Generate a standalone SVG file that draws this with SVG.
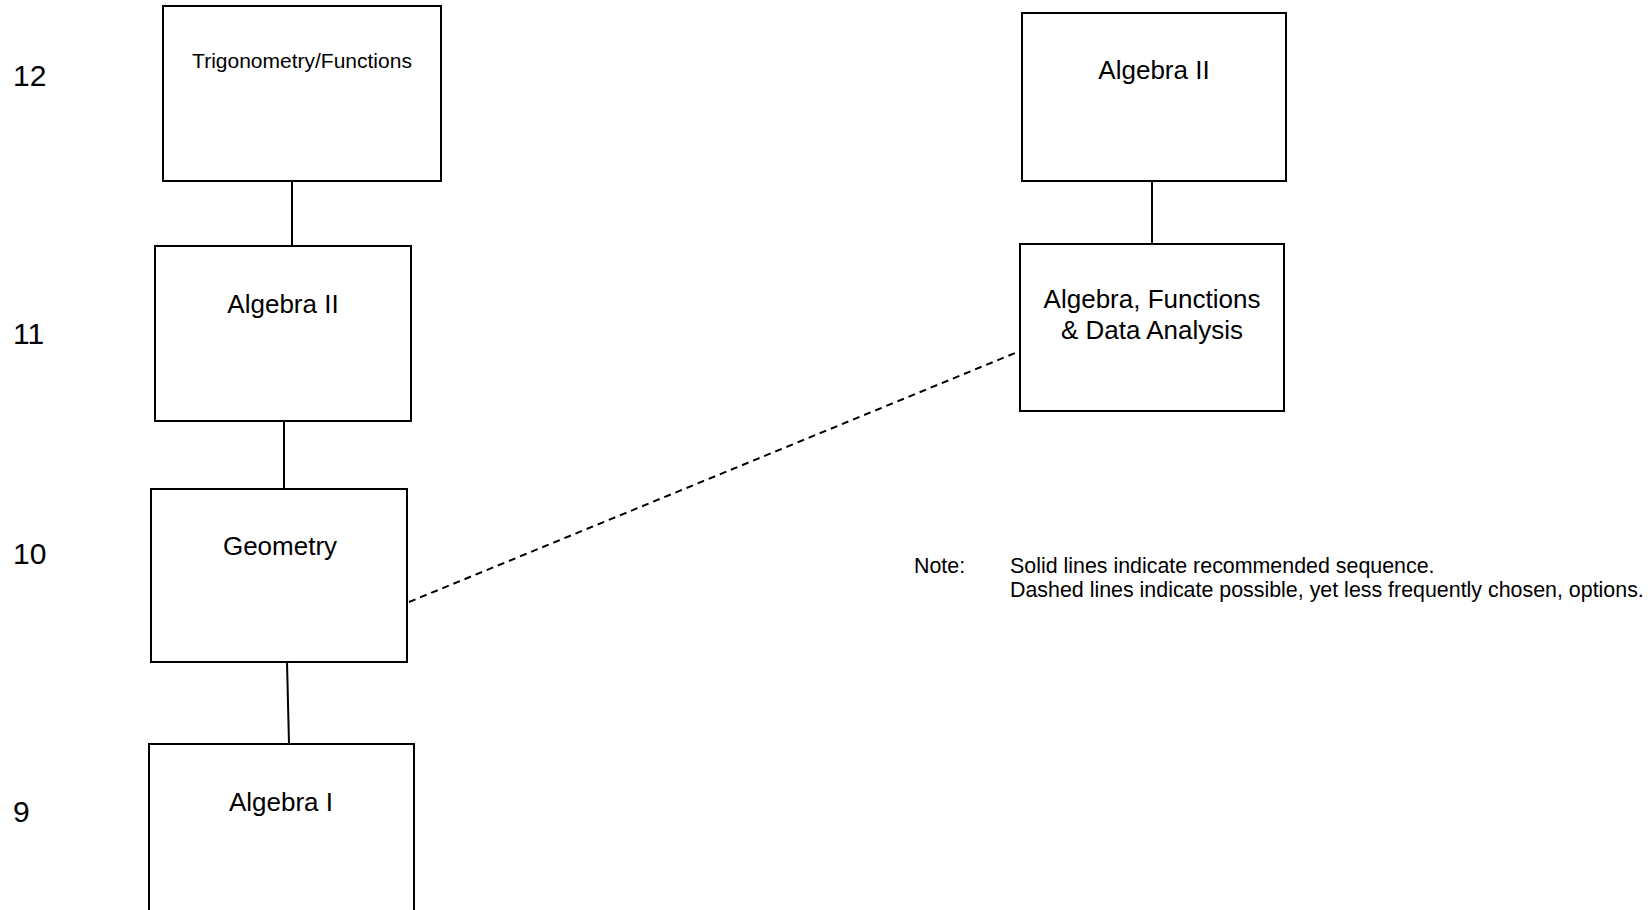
<svg xmlns="http://www.w3.org/2000/svg" width="1648" height="910" viewBox="0 0 1648 910">
<style>
.box{fill:#ffffff;stroke:#000000;stroke-width:2}
.lbl{font-family:"Liberation Sans",Arial,sans-serif;font-size:26px;fill:#000000;text-anchor:middle}
.sm{font-size:21px}
.grade{font-family:"Liberation Sans",Arial,sans-serif;font-size:30px;fill:#000000}
.note{font-family:"Liberation Sans",Arial,sans-serif;font-size:21.4px;fill:#000000}
.solid{stroke:#000000;stroke-width:2;fill:none}
.dash{stroke:#000000;stroke-width:2;fill:none;stroke-dasharray:7 5}
</style>
<rect x="0" y="0" width="1648" height="910" fill="#ffffff"/>
<g id="grades">
<text class="grade" x="13" y="86">12</text>
<text class="grade" x="13" y="344">11</text>
<text class="grade" x="13" y="564">10</text>
<text class="grade" x="13" y="822">9</text>
</g>
<g id="connectors">
<line class="solid" x1="292" y1="181" x2="292" y2="246"/>
<line class="solid" x1="284" y1="421" x2="284" y2="489"/>
<line class="solid" x1="287" y1="662" x2="289" y2="744"/>
<line class="solid" x1="1152" y1="181" x2="1152" y2="244"/>
<line class="dash" x1="409" y1="602" x2="1020" y2="351"/>
</g>
<g id="trig">
<rect class="box" x="163" y="6" width="278" height="175"/>
<text class="lbl sm" x="302" y="68">Trigonometry/Functions</text>
</g>
<g id="alg2-left">
<rect class="box" x="155" y="246" width="256" height="175"/>
<text class="lbl" x="283" y="313">Algebra II</text>
</g>
<g id="geometry">
<rect class="box" x="151" y="489" width="256" height="173"/>
<text class="lbl" x="280" y="555">Geometry</text>
</g>
<g id="alg1">
<rect class="box" x="149" y="744" width="265" height="200"/>
<text class="lbl" x="281" y="811">Algebra I</text>
</g>
<g id="alg2-right">
<rect class="box" x="1022" y="13" width="264" height="168"/>
<text class="lbl" x="1154" y="79">Algebra II</text>
</g>
<g id="afda">
<rect class="box" x="1020" y="244" width="264" height="167"/>
<text class="lbl" x="1152" y="308">Algebra, Functions</text>
<text class="lbl" x="1152" y="339">&amp; Data Analysis</text>
</g>
<g id="note">
<text class="note" x="914" y="573">Note:</text>
<text class="note" x="1010" y="573">Solid lines indicate recommended sequence.</text>
<text class="note" x="1010" y="597">Dashed lines indicate possible, yet less frequently chosen, options.</text>
</g>
</svg>
